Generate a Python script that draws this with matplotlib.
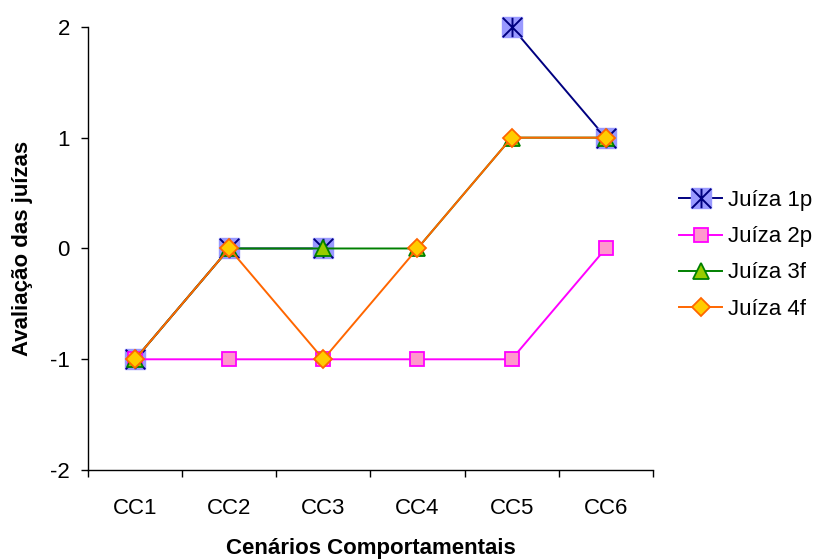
import matplotlib
matplotlib.use("Agg")
import matplotlib.pyplot as plt
import numpy as np
from matplotlib.path import Path
from matplotlib.legend_handler import HandlerTuple

plt.rcParams['font.family'] = ['Liberation Sans', 'DejaVu Sans']
plt.rcParams['axes.unicode_minus'] = False

categorias = ['CC1', 'CC2', 'CC3', 'CC4', 'CC5', 'CC6']
juiza_1p = [-1, 0, 0, np.nan, 2, 1]
juiza_2p = [-1, -1, -1, -1, -1, 0]
juiza_3f = [-1, 0, 0, 0, 1, 1]
juiza_4f = [-1, 0, -1, 0, 1, 1]

# estrela do Excel: X com uma barra vertical
estrela = Path([(-0.5, -0.5), (0.5, 0.5), (-0.5, 0.5), (0.5, -0.5), (0, -0.5), (0, 0.5)],
               [Path.MOVETO, Path.LINETO, Path.MOVETO, Path.LINETO, Path.MOVETO, Path.LINETO])

fig = plt.figure(figsize=(8.15, 5.59), dpi=100)
ax = fig.add_axes([0.108, 0.159, 0.693, 0.793])

x = np.arange(len(categorias))

l1a, = ax.plot(x, juiza_1p, color='#000080', lw=1.4, marker='s', ms=14,
               mfc='#9999FF', mec='#9999FF', clip_on=False, zorder=3)
l1b, = ax.plot(x, juiza_1p, ls='none', marker=estrela, ms=14, mfc='none',
               mec='#000080', mew=1.4, clip_on=False, zorder=3)
l2, = ax.plot(x, juiza_2p, color='#FF00FF', lw=1.4, marker='s', ms=10,
              mfc='#FF99CC', mec='#FF00FF', mew=1.3, clip_on=False, zorder=4)
l3, = ax.plot(x, juiza_3f, color='#008000', lw=1.4, marker='^', ms=12,
              mfc='#99CC00', mec='#008000', mew=1.3, clip_on=False, zorder=5)
l4, = ax.plot(x, juiza_4f, color='#FF6600', lw=1.4, marker='D', ms=9,
              mfc='#FFCC00', mec='#FF6600', mew=1.3, clip_on=False, zorder=6)

ax.set_xlim(-0.5, len(categorias) - 0.5)
ax.set_ylim(-2, 2)
ax.set_yticks([-2, -1, 0, 1, 2])
ax.set_xticks(x)
ax.set_xticklabels(categorias)
ax.set_xticks(np.arange(-0.5, len(categorias)), minor=True)
ax.tick_params(axis='x', which='major', length=0, pad=20, labelsize=16)
ax.tick_params(axis='x', which='minor', length=5, width=1, direction='out')
ax.tick_params(axis='y', length=5, width=1, direction='out', pad=8, labelsize=16)

for s in ['top', 'right']:
    ax.spines[s].set_visible(False)
for s in ['left', 'bottom']:
    ax.spines[s].set_linewidth(1)

ax.set_xlabel('Cenários Comportamentais', fontsize=16, fontweight='bold', labelpad=14)
ax.set_ylabel('Avaliação das juízas', fontsize=16, fontweight='bold', labelpad=12)

fig.legend([(l1a, l1b), l2, l3, l4], ['Juíza 1p', 'Juíza 2p', 'Juíza 3f', 'Juíza 4f'],
           handler_map={tuple: HandlerTuple(ndivide=1)},
           loc='center left', bbox_to_anchor=(0.82, 0.544), frameon=False,
           fontsize=16, numpoints=1, handlelength=1.9, handletextpad=0.3,
           labelspacing=0.68, borderpad=0)

fig.savefig('out.png', dpi=100)
